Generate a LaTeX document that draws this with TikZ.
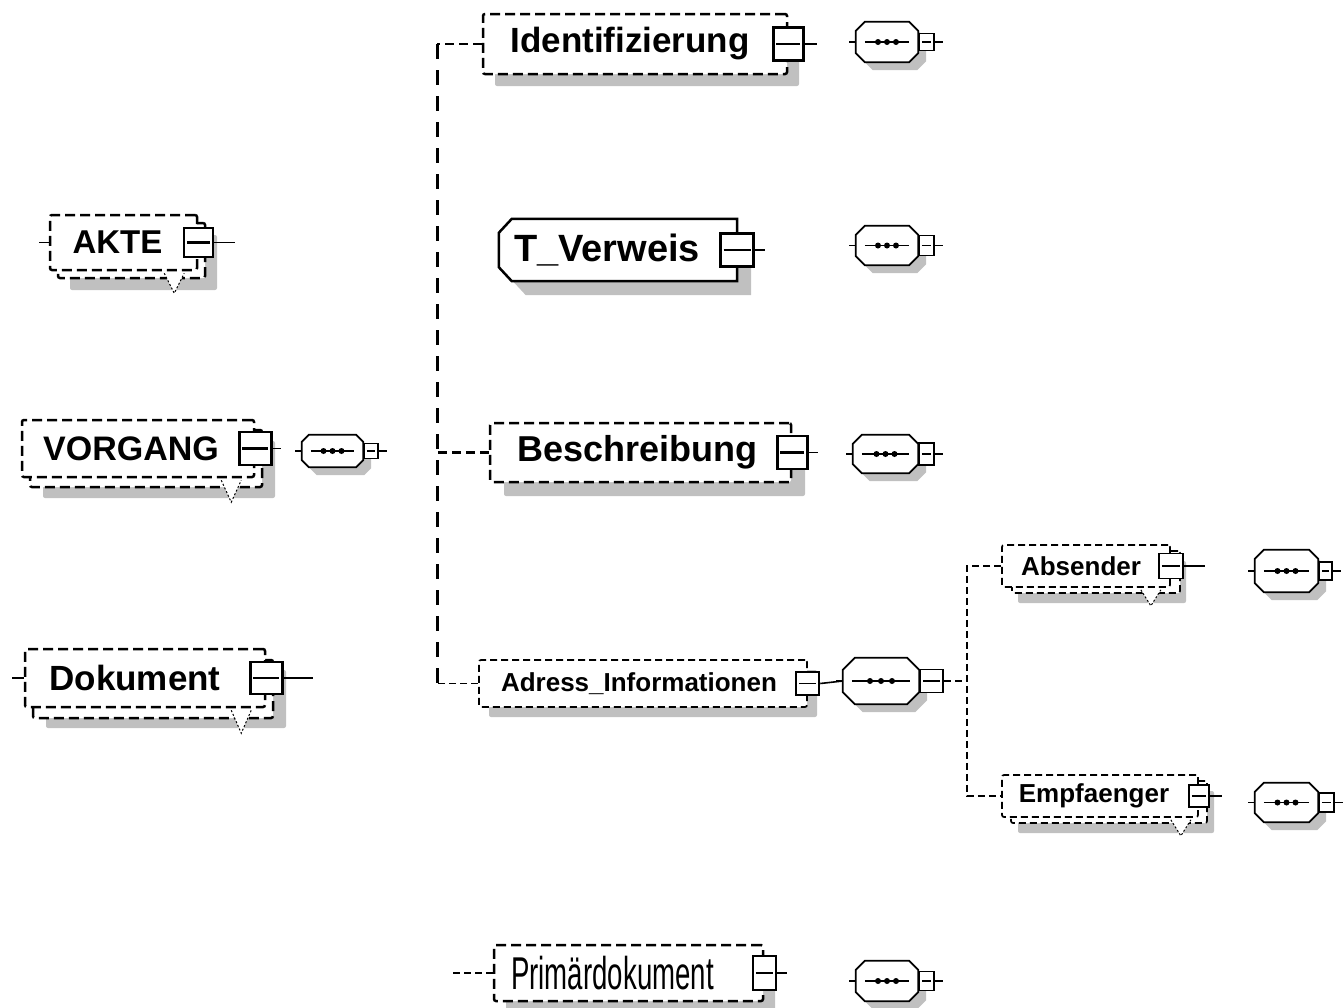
\documentclass[tikz,border=0pt]{standalone}
\usepackage{fontspec}
\setmainfont{Liberation Sans}
\newfontfamily\narrowfont[FakeStretch=0.6]{Liberation Sans}
\usetikzlibrary{positioning}
\usetikzlibrary{shadows}
\usetikzlibrary{backgrounds}
\definecolor{shadowGray}{RGB}{192,192,192}

\tikzset{
  elem/.style={draw, fill=white, line width=2.5pt, dash pattern=on 10pt off 5pt,
               rounded corners=2pt, inner sep=0pt},
  smallelem/.style={elem, line width=1.7pt, dash pattern=on 7pt off 4pt},
  boldtext/.style={font=\fontsize{#1}{#1}\selectfont\bfseries},
  grayshadow/.style={drop shadow={shadow xshift=#1, shadow yshift=-#1,
                                  fill=shadowGray, opacity=1}},
  stacked/.style 2 args={general shadow={shadow xshift=#1, shadow yshift=-#2,
                                         draw=black, fill=white}},
  minusbox/.style={draw, solid, sharp corners, fill=white, line width=#1,
                   inner sep=0pt,
                   path picture={\draw [line width=#1]
                     ([xshift=3pt]path picture bounding box.west) --
                     ([xshift=-3pt]path picture bounding box.east);}},
  minusbox/.default=2.5pt,
  typeframe/.style={draw, fill=white, line width=2.5pt, grayshadow=14pt},
  seq/.style={rectangle, inner sep=0pt, minimum width=62pt, minimum height=40pt},
  octagon/.style={draw, fill=white, line width=1.7pt, grayshadow=8pt},
  stub/.style={line width=1.6pt},
  trunk/.style={line width=3pt, dash pattern=on 15pt off 11pt},
  bigbranch/.style={line width=2.6pt, dash pattern=on 9pt off 5pt},
  branch/.style={line width=1.7pt, dash pattern=on 7pt off 4pt},
  pointer/.style={fill=white, line width=1pt, dash pattern=on 2pt off 2pt},
}

\begin{document}
\begin{tikzpicture}[x=1pt, y=-1pt]
  \useasboundingbox (0,0) rectangle (1343,1007);
  \begin{scope}[on background layer]
    \fill [white] (0,0) rectangle (1343,1007);
  \end{scope}

  % top level elements
  \node [elem, boldtext=33, grayshadow=20pt, stacked={8pt}{8pt},
         minimum width=147pt, minimum height=55pt] (akte) at (123.5,242.5)
        {AKTE\kern12pt};
  \node [minusbox, minimum width=29pt, minimum height=29pt] (akte-m) at (akte.east) {};
  \draw [stub] (akte.west) -- ++(-10,0);
  \draw [stub] (akte-m.east) -- ++(21,0);
  \draw [pointer] ([xshift=-34pt,yshift=-2pt]akte.south east) -- ++(10,20) -- ++(10,-20);

  \node [elem, boldtext=34, grayshadow=21pt, stacked={8pt}{10pt},
         minimum width=232pt, minimum height=57pt] (vorgang) at (138,448.5)
        {VORGANG\kern14pt};
  \node [minusbox, minimum width=32pt, minimum height=33pt] (vorgang-m) at (vorgang.east) {};
  \draw [stub] (vorgang-m.east) -- ++(8,0);
  \draw [pointer] ([xshift=-34pt,yshift=-2pt]vorgang.south east) -- ++(10,22) -- ++(10,-22);
  \node [seq, minimum width=61pt, minimum height=32pt] (vorgang-seq) at (332.5,451) {};

  \node [elem, boldtext=35, grayshadow=21pt, stacked={8pt}{11pt},
         minimum width=240pt, minimum height=58pt] (dokument) at (145,678)
        {Dokument\kern20pt};
  \node [minusbox, minimum width=32pt, minimum height=32pt] (dokument-m) at (dokument.east) {};
  \draw [stub] (dokument.west) -- ++(-12,0);
  \draw [stub] (dokument-m.east) -- ++(29,0);
  \draw [pointer] ([xshift=-35pt,yshift=-2pt]dokument.south east) -- ++(10,23) -- ++(10,-23);

  % children of Dokument
  \node [elem, boldtext=35, grayshadow=12pt,
         minimum width=304pt, minimum height=60pt] (ident) at (635,44)
        {Identifizierung\kern10pt};
  \node [minusbox, minimum width=30pt, minimum height=33pt] (ident-m) at (ident.east) {};
  \draw [stub] (ident-m.east) -- ++(12,0);
  \node [seq] (ident-seq) at (887,42) {};

  \node [boldtext=38, inner sep=0pt,
         minimum width=238pt, minimum height=62pt] (tverweis) at (618,250)
        {T\_Verweis\kern22pt};
  \begin{scope}[on background layer]
    \draw [typeframe] ([xshift=13pt]tverweis.north west) -- (tverweis.north east)
          -- (tverweis.south east) -- ([xshift=13pt]tverweis.south west)
          -- ([yshift=14pt]tverweis.south west) -- ([yshift=-14pt]tverweis.north west)
          -- cycle;
  \end{scope}
  \node [minusbox, minimum width=33pt, minimum height=33pt] (tverweis-m) at (tverweis.east) {};
  \draw [stub] (tverweis-m.east) -- ++(10,0);
  \node [seq, minimum height=39pt] (tverweis-seq) at (887,245.5) {};

  \node [elem, boldtext=36, grayshadow=14pt,
         minimum width=301pt, minimum height=59pt] (descr) at (640.5,452.5)
        {Beschreibung\kern6pt};
  \node [minusbox, minimum width=30pt, minimum height=33pt] (descr-m) at (descr.east) {};
  \draw [stub] (descr-m.east) -- ++(9,0);
  \node [seq, minimum width=65pt, minimum height=38pt] (descr-seq) at (885.5,454) {};

  \node [smallelem, boldtext=26, grayshadow=10pt,
         minimum width=328pt, minimum height=47pt] (adress) at (643,683.5)
        {Adress\_Informationen\kern8pt};
  \node [minusbox=1.8pt, minimum width=23pt, minimum height=23pt] (adress-m) at (adress.east) {};
  \node [seq, minimum width=76pt, minimum height=46pt] (adress-seq) at (881,681) {};

  \node [elem, font=\narrowfont\fontsize{46}{46}\selectfont, grayshadow=12pt,
         minimum width=269pt, minimum height=56pt] (primaer) at (628.5,973)
        {Primärdokument\kern32pt};
  \node [minusbox, minimum width=23pt, minimum height=34pt] (primaer-m) at (primaer.east) {};
  \draw [stub] (primaer-m.east) -- ++(10,0);
  \draw [branch, line width=2pt] (primaer.west) -- ++(-43,0);
  \node [seq] (primaer-seq) at (887,981) {};

  % children of Adress_Informationen
  \node [smallelem, boldtext=26, grayshadow=16pt, stacked={10pt}{6pt},
         minimum width=168pt, minimum height=42pt] (absender) at (1086,566)
        {Absender\kern10pt};
  \node [minusbox=1.7pt, minimum width=24pt, minimum height=25pt] (absender-m) at (absender.east) {};
  \draw [stub] (absender-m.east) -- ++(21,0);
  \draw [pointer] ([xshift=-30pt,yshift=-2pt]absender.south east) -- ++(10,16) -- ++(10,-16);
  \node [seq, minimum width=63pt, minimum height=42pt] (absender-seq) at (1286.5,571) {};

  \node [smallelem, boldtext=26, grayshadow=16pt, stacked={9pt}{6pt},
         minimum width=196pt, minimum height=42pt] (empfaenger) at (1100,796)
        {Empfaenger\kern12pt};
  \node [minusbox=1.7pt, minimum width=20pt, minimum height=22pt] (empfaenger-m) at (empfaenger.east) {};
  \draw [stub] (empfaenger-m.east) -- ++(12,0);
  \draw [pointer] ([xshift=-28pt,yshift=-2pt]empfaenger.south east) -- ++(10,16) -- ++(10,-16);
  \node [seq, minimum width=63pt, minimum height=39pt] (empfaenger-seq) at (1286.5,802.5) {};

  % sequence compositors: octagon, dotted bar, minus box, stubs
  \foreach \s/\c/\g/\w/\h/\lw in {vorgang-seq/7/9/14/15/1.4, ident-seq/9/9/15/17/1.4,
      tverweis-seq/9/9/15/20/1.4, descr-seq/9/9/15/22/1.4, adress-seq/12/11/23/23/1.8,
      primaer-seq/9/9/15/19/1.4, absender-seq/9/9/13/18/1.4,
      empfaenger-seq/9/9/15/19/1.4} {
    \draw [octagon] ([xshift=\c pt]\s.north west) -- ([xshift=-\c pt]\s.north east)
          -- ([yshift=-\c pt]\s.north east) -- ([yshift=\c pt]\s.south east)
          -- ([xshift=-\c pt]\s.south east) -- ([xshift=\c pt]\s.south west)
          -- ([yshift=\c pt]\s.south west) -- ([yshift=-\c pt]\s.north west) -- cycle;
    \draw [line width=1.6pt] ([xshift=9pt]\s.west) -- ([xshift=-9pt]\s.east);
    \foreach \k in {-1,0,1}
      \fill ([xshift=\k*\g pt]\s.center) circle (3pt);
    \node [minusbox=\lw pt, minimum width=\w pt, minimum height=\h pt, anchor=west]
          (\s-m) at (\s.east) {};
    \draw [stub] (\s.west) -- ++(-7,0);
  }
  \foreach \s in {vorgang-seq, ident-seq, tverweis-seq, descr-seq,
                  primaer-seq, absender-seq, empfaenger-seq}
    \draw [stub] (\s-m.east) -- ++(8,0);

  % connectors
  \coordinate (fork) at (437,44);
  \draw [trunk] (fork) -- (fork |- adress.west);
  \draw [bigbranch] (ident.west) -- (fork);
  \draw [bigbranch] (descr.west) -- (descr.west -| fork);
  \draw [branch] (adress.west) -- (adress.west -| fork);
  \draw [stub] (adress-m.east) -- (adress-seq.west);

  \coordinate (fork-adr) at (967,566);
  \draw [branch] (adress-seq-m.east) -- (adress-seq-m.east -| fork-adr);
  \draw [branch] (absender.west) -- (fork-adr) |- (empfaenger.west);
\end{tikzpicture}
\end{document}
